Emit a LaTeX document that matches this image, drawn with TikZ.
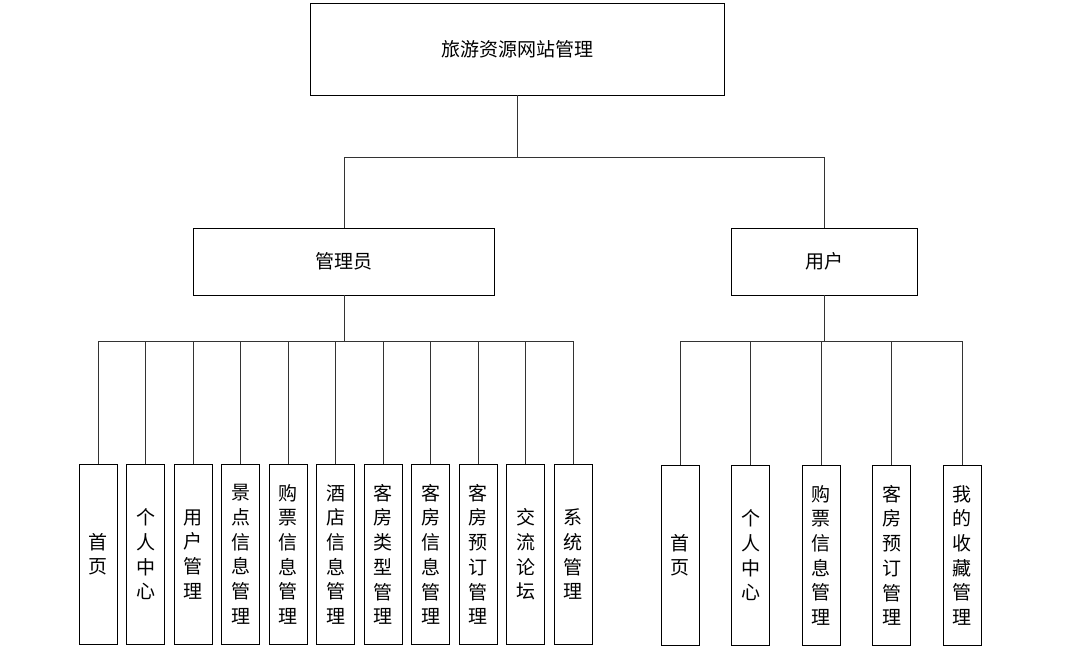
\documentclass[tikz,border=0pt]{standalone}
\usepackage{fontspec}
\setmainfont{Noto Sans CJK SC}
\usetikzlibrary{positioning}
\tikzset{
  topbox/.style={draw, line width=0.8pt, minimum width=414pt, minimum height=92pt, font=\fontsize{19}{23}\selectfont},
  rolebox/.style={draw, line width=0.8pt, minimum height=67pt, font=\fontsize{19}{23}\selectfont},
  leaf/.style={draw, line width=0.8pt, anchor=north, minimum width=38pt, minimum height=180pt, inner sep=0pt, align=center, font=\fontsize{19}{24.7}\selectfont},
  link/.style={draw, line width=0.8pt, color=black!80},
}

\begin{document}
\begin{tikzpicture}[x=1pt, y=-1pt]
  \useasboundingbox (0,0) rectangle (1071,663);
  \node[topbox] (root) at (517,49) {旅游资源网站管理};
  \node[rolebox, minimum width=301pt] (adm) at (344,261.5) {管理员};
  \node[rolebox, minimum width=186pt] (usr) at (824,261.5) {用户};
  \draw[link] (root.south) -- ++(0,62) -| (adm.north);
  \draw[link] (root.south) -- ++(0,62) -| (usr.north);
  % admin modules
  \node[leaf] (a1) at (98,464) {首\\页};
  \node[leaf, right=8.7pt of a1] (a2) {个\\人\\中\\心};
  \node[leaf, right=8.7pt of a2] (a3) {用\\户\\管\\理};
  \node[leaf, right=8.7pt of a3] (a4) {景\\点\\信\\息\\管\\理};
  \node[leaf, right=8.7pt of a4] (a5) {购\\票\\信\\息\\管\\理};
  \node[leaf, right=8.7pt of a5] (a6) {酒\\店\\信\\息\\管\\理};
  \node[leaf, right=8.7pt of a6] (a7) {客\\房\\类\\型\\管\\理};
  \node[leaf, right=8.7pt of a7] (a8) {客\\房\\信\\息\\管\\理};
  \node[leaf, right=8.7pt of a8] (a9) {客\\房\\预\\订\\管\\理};
  \node[leaf, right=8.7pt of a9] (a10) {交\\流\\论\\坛};
  \node[leaf, right=8.7pt of a10] (a11) {系\\统\\管\\理};
  \foreach \i in {1,...,11} \draw[link] (adm.south) -- ++(0,46) -| (a\i.north);
  % user modules
  \node[leaf] (u1) at (680,465) {首\\页};
  \node[leaf, right=31.7pt of u1] (u2) {个\\人\\中\\心};
  \node[leaf, right=31.7pt of u2] (u3) {购\\票\\信\\息\\管\\理};
  \node[leaf, right=31.7pt of u3] (u4) {客\\房\\预\\订\\管\\理};
  \node[leaf, right=31.7pt of u4] (u5) {我\\的\\收\\藏\\管\\理};
  \foreach \i in {1,...,5} \draw[link] (usr.south) -- ++(0,46) -| (u\i.north);
\end{tikzpicture}
\end{document}
